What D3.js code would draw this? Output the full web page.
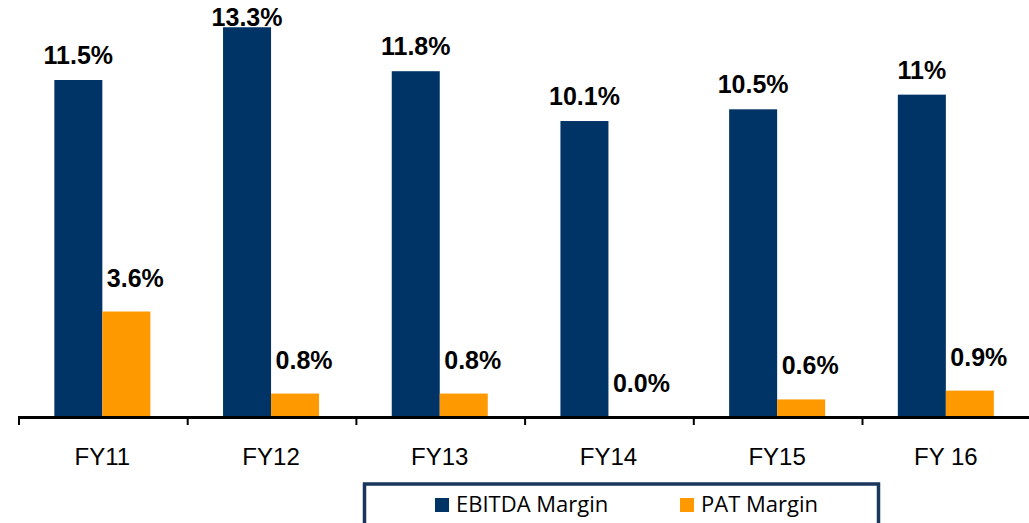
<!DOCTYPE html>
<html>
<head>
<meta charset="utf-8">
<script src="https://cdn.jsdelivr.net/npm/d3@7"></script>
<style>
  body { margin: 0; background: #fff; }
  svg { display: block; }
</style>
</head>
<body>
<svg id="bar-chart" width="1029" height="523"></svg>
<script>
const years = ["FY11", "FY12", "FY13", "FY14", "FY15", "FY 16"];
const seriesNames = ["EBITDA Margin", "PAT Margin"];
const ebitda = [11.5, 13.3, 11.8, 10.1, 10.5, 11];
const pat = [3.6, 0.8, 0.8, 0.0, 0.6, 0.9];
const ebitdaLabels = ["11.5%", "13.3%", "11.8%", "10.1%", "10.5%", "11%"];
const patLabels = ["3.6%", "0.8%", "0.8%", "0.0%", "0.6%", "0.9%"];

const colors = { "EBITDA Margin": "#003366", "PAT Margin": "#ff9900" };

let svg = d3.select("svg#bar-chart"),
    baseY = 417,
    left = 18,
    step = 168.7;

// one row per category, both series side by side
let rows = years.map((y, i) => ({
    year: y,
    values: [
        { name: seriesNames[0], v: ebitda[i], label: ebitdaLabels[i] },
        { name: seriesNames[1], v: pat[i], label: patLabels[i] }
    ]
}));

let x0 = d3.scaleBand()
    .domain(years)
    .range([left, left + step * years.length])
    .paddingInner(0)
    .paddingOuter(0);

let x1 = d3.scaleBand()
    .domain(seriesNames)
    .range([0, x0.bandwidth()])
    .paddingInner(0)
    .paddingOuter(0.757);

let y = d3.scaleLinear()
    .domain([0, 14.23])
    .range([baseY, 0]);

let groups = svg.selectAll(".year")
    .data(rows)
    .enter()
    .append("g")
    .attr("class", "year")
    .attr("transform", d => `translate(${x0(d.year)},0)`);

groups.selectAll("rect")
    .data(d => d.values)
    .enter()
    .append("rect")
    .attr("x", d => x1(d.name))
    .attr("width", x1.bandwidth())
    .attr("y", d => y(d.v))
    .attr("height", d => baseY - y(d.v))
    .attr("fill", d => colors[d.name]);

// value labels, bold, above each bar
groups.selectAll("text.val")
    .data(d => d.values)
    .enter()
    .append("text")
    .attr("class", "val")
    .attr("x", d => x1(d.name) + x1.bandwidth() / 2 + (d.name === "PAT Margin" ? 9 : 0))
    .attr("y", d => Math.max(26, y(d.v) - (d.name === "PAT Margin" ? 25 : 16)))
    .attr("text-anchor", "middle")
    .attr("font-family", "Liberation Sans, Arial, sans-serif")
    .attr("font-weight", "bold")
    .attr("font-size", 25)
    .attr("fill", "#000")
    .text(d => d.label);

// x axis: line plus ticks at category boundaries
let axis = svg.append("g").attr("class", "axis axis--x");

axis.append("line")
    .attr("x1", left)
    .attr("x2", 1029)
    .attr("y1", baseY + 0.5)
    .attr("y2", baseY + 0.5)
    .attr("stroke", "#000")
    .attr("stroke-width", 3);

axis.selectAll("line.tick")
    .data(years)
    .enter()
    .append("line")
    .attr("class", "tick")
    .attr("x1", d => x0(d) + 1)
    .attr("x2", d => x0(d) + 1)
    .attr("y1", baseY)
    .attr("y2", baseY + 8)
    .attr("stroke", "#000")
    .attr("stroke-width", 2);

axis.selectAll("text")
    .data(years)
    .enter()
    .append("text")
    .attr("x", d => x0(d) + x0.bandwidth() / 2)
    .attr("y", 465)
    .attr("text-anchor", "middle")
    .attr("font-family", "Liberation Sans, Arial, sans-serif")
    .attr("font-size", 24)
    .attr("fill", "#000")
    .text(d => d);

// legend box at the bottom
let legend = svg.append("g").attr("class", "legend");

legend.append("rect")
    .attr("x", 364.5)
    .attr("y", 484)
    .attr("width", 514)
    .attr("height", 50)
    .attr("fill", "#fff")
    .attr("stroke", "#1b365d")
    .attr("stroke-width", 3.5);

let legendX = d3.scaleOrdinal()
    .domain(seriesNames)
    .range([435, 680]);

let item = legend.selectAll(".item")
    .data(seriesNames)
    .enter()
    .append("g")
    .attr("class", "item")
    .attr("transform", d => `translate(${legendX(d)},498)`);

item.append("rect")
    .attr("width", 14)
    .attr("height", 14)
    .attr("fill", d => colors[d]);

item.append("text")
    .attr("x", 21)
    .attr("y", 14)
    .attr("font-family", "Open Sans, sans-serif")
    .attr("font-size", 22)
    .attr("fill", "#000")
    .text(d => d);
</script>
</body>
</html>
